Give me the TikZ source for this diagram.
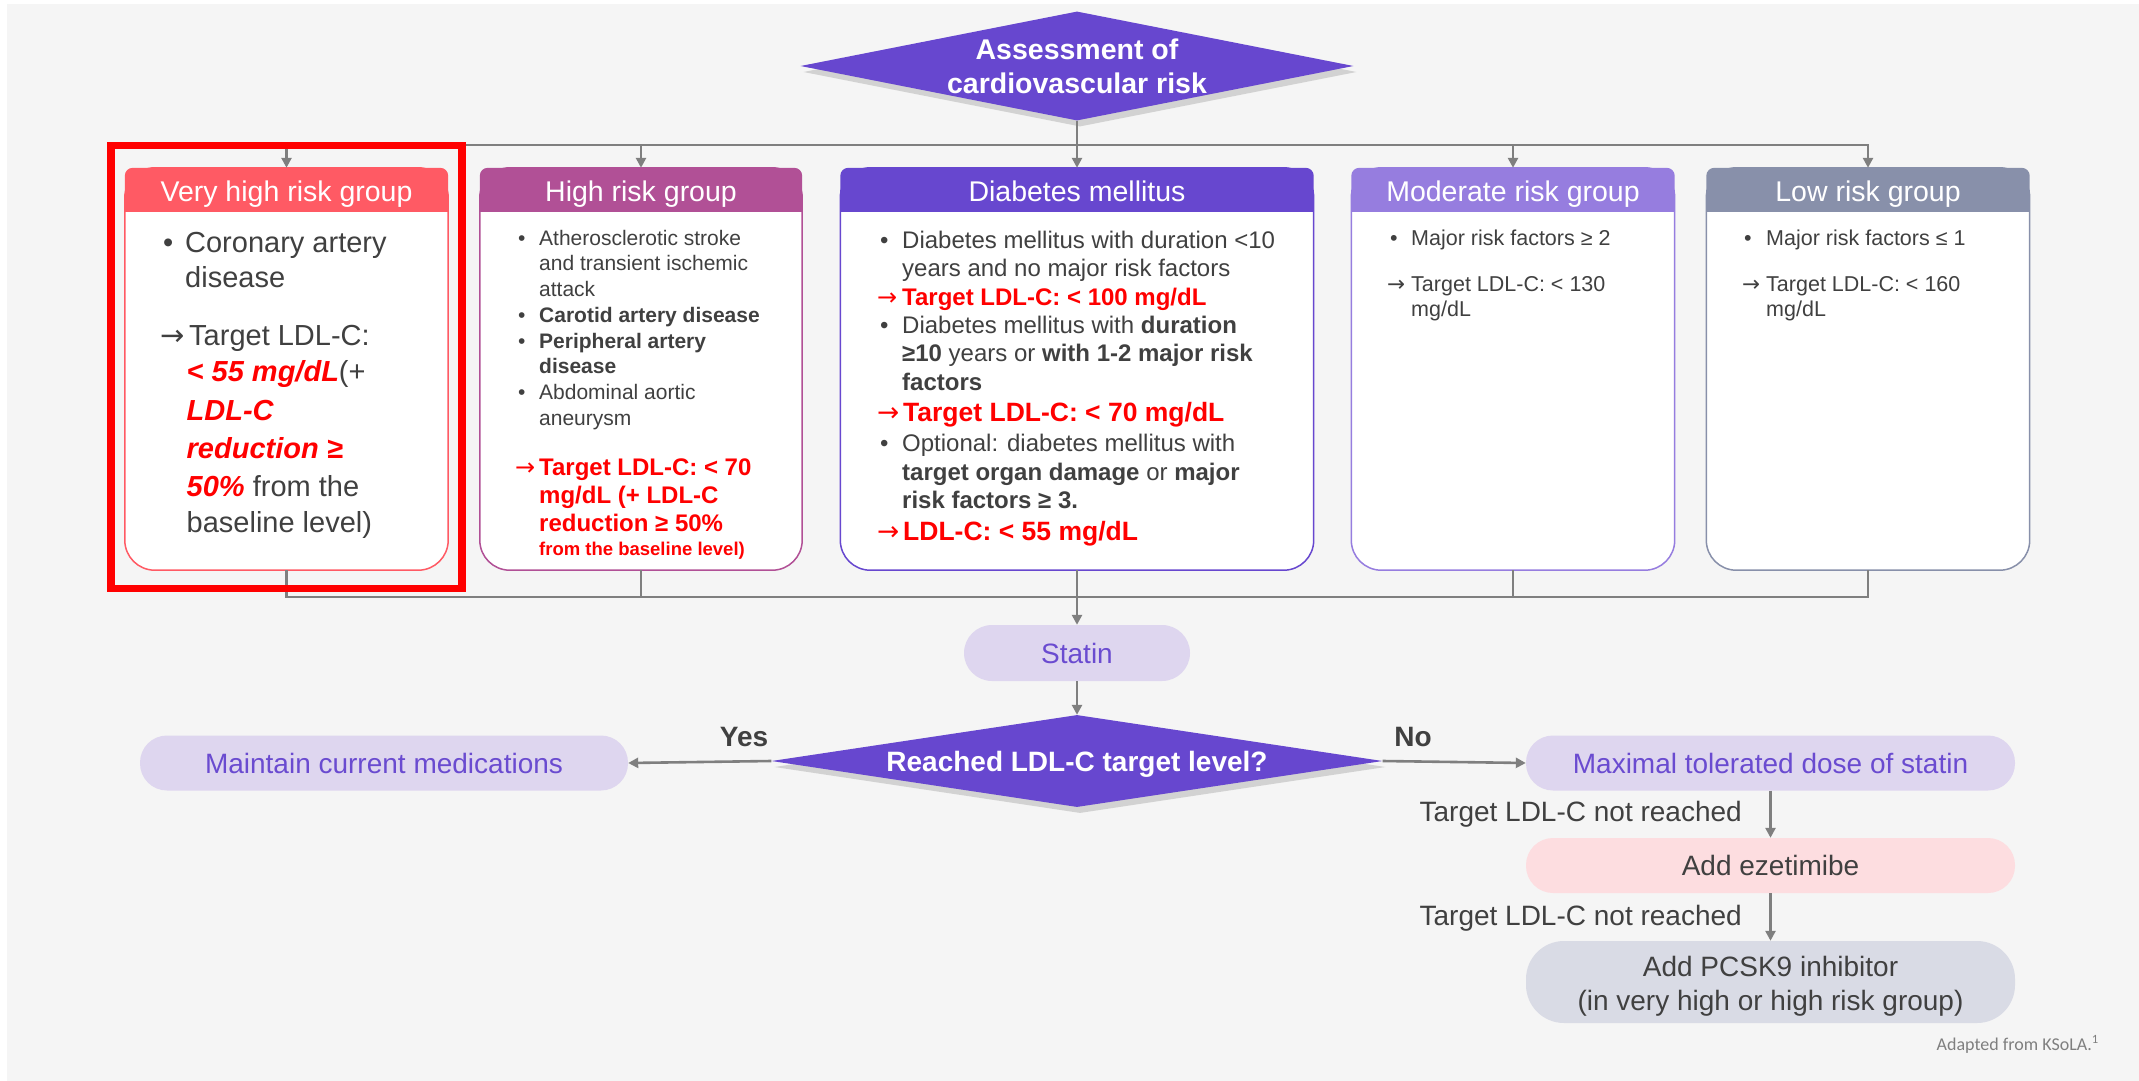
\documentclass[tikz,border=0pt]{standalone}
\usepackage{fontspec}
\setmainfont{Liberation Sans}
\newfontfamily\carl{Carlito}
\newfontfamily\dejv{DejaVu Sans}
\usetikzlibrary{shapes.geometric,arrows.meta,shadows,calc}
\definecolor{bgc}{HTML}{F5F5F5}
\definecolor{txtc}{HTML}{404040}
\definecolor{connc}{HTML}{7F7F7F}
\definecolor{vhc}{HTML}{FF5A64}
\definecolor{hic}{HTML}{B15096}
\definecolor{dmc}{HTML}{6747CF}
\definecolor{moc}{HTML}{967DDF}
\definecolor{loc}{HTML}{8890AA}
\definecolor{purp}{HTML}{6A4BD0}
\definecolor{lav}{HTML}{DED6EF}
\definecolor{pinkf}{HTML}{FDDDE0}
\definecolor{gbf}{HTML}{D9DBE5}
\definecolor{redt}{HTML}{FF0000}
\definecolor{footc}{HTML}{7F7F7F}
\newcommand\fsz[1]{\fontsize{#1}{#1}\selectfont}
\newcommand\rar{{\dejv\mdseries\upshape →}}
\newcommand\grpdraw[3]{%
  \draw[draw=#2, line width=1.5pt, fill=white, rounded corners=30pt] (#1.north west) rectangle (#1.south east);
  \fill[#2, rounded corners=8pt] (#1.north west) rectangle ($(#1.north east)+(0,44)$);
  \fill[#2] ($(#1.north west)+(0,22)$) rectangle ($(#1.north east)+(0,44)$);
  \node[font=\fsz{28.5}, text=white, anchor=base, inner sep=0pt] (#1t) at ($(#1.north)+(0,33.5)$) {#3};
}
\begin{document}
\begin{tikzpicture}[x=1pt,y=-1pt,
  conn/.style={draw=connc, line width=2.6pt},
  arr/.style={draw=connc, line width=2.6pt, -{Triangle[length=10pt,width=10pt]}},
  grp/.style={rectangle, minimum width=323pt, minimum height=402pt, inner sep=0pt},
  ln/.style={anchor=base west, inner sep=0pt, text=txtc},
  rl/.style={anchor=base west, inner sep=0pt, text=redt, font=\bfseries\fsz{24}},
  pill/.style={rectangle, rounded corners=27pt, minimum height=55pt, minimum width=489pt, inner sep=0pt, font=\fsz{28}, text height=20pt, text depth=0pt},
  dshadow/.style={drop shadow={shadow xshift=3pt, shadow yshift=-6pt, opacity=0.18, fill=black!80}},
  lbl/.style={inner sep=0pt, text=txtc, font=\fsz{28}},
  wht/.style={inner sep=0pt, text=white, font=\bfseries\fsz{28.5}, anchor=base}
]
\useasboundingbox (0,0) rectangle (2139,1081);
\fill[white] (0,0) rectangle (2139,1081);
\fill[bgc] (7,4) rectangle (2139,1081);

% group boxes
\node[grp] (vh) at (286.5,369) {};
\node[grp, minimum width=322pt] (hi) at (641,369) {};
\node[grp, minimum width=473pt] (dm) at (1077,369) {};
\node[grp] (mo) at (1513,369) {};
\node[grp] (lo) at (1868,369) {};
\grpdraw{vh}{vhc}{Very high risk group}
\grpdraw{hi}{hic}{High risk group}
\grpdraw{dm}{dmc}{Diabetes mellitus}
\grpdraw{mo}{moc}{Moderate risk group}
\grpdraw{lo}{loc}{Low risk group}

% top diamond
\node[diamond, fill=dmc, minimum width=553pt, minimum height=109pt, inner sep=0pt, dshadow] (assess) at (1077,66) {};
\node[wht] (as1) at (1077,59.3) {Assessment of};
\node[wht] (as2) at (1077,93.8) {cardiovascular risk};

% bus lines
\coordinate (bt) at (1077,145);
\coordinate (bb) at (1077,597);
\draw[conn] (assess.south) -- (assess.south |- bt);
\draw[conn, line cap=rect] (vh.north |- bt) -- (lo.north |- bt);
\foreach \n in {vh,hi,dm,mo,lo} \draw[arr] (\n.north |- bt) -- (\n.north);
\draw[conn, line join=miter] (vh.south) -- (vh.south |- bb) -- (lo.south |- bb) -- (lo.south);
\draw[conn] (hi.south) -- (hi.south |- bb);
\draw[conn] (mo.south) -- (mo.south |- bb);

% highlight
\node[draw=redt, line width=7.5pt, minimum width=351pt, minimum height=443pt, inner sep=0pt] (hl) at (286.5,367) {};

% lower part
\node[pill, fill=lav, text=purp, minimum width=226pt, minimum height=56pt, rounded corners=28pt] (statin) at (1077,653) {Statin};
\draw[arr] (dm.south) -- (statin.north);
\node[diamond, fill=dmc, minimum width=611pt, minimum height=92pt, inner sep=0pt, dshadow] (dec) at (1077,761) {};
\node[wht, font=\bfseries\fsz{28}] (dect) at (1077,771.7) {Reached LDL-C target level?};
\draw[arr] (statin.south) -- (dec.north);

\node[pill, fill=lav, text=purp, minimum width=488pt] (maint) at (384,763) {Maintain current medications};
\node[pill, fill=lav, text=purp] (maxd) at (1770.5,763) {Maximal tolerated dose of statin};
\node[pill, fill=pinkf, text=txtc] (eze) at (1770.5,865.5) {Add ezetimibe};
\node[pill, fill=gbf, minimum height=82pt, rounded corners=38pt] (pcsk) at (1770.5,982) {};
\node[lbl, anchor=base] (pk1) at (1770.5,976.5) {Add PCSK9 inhibitor};
\node[lbl, anchor=base] (pk2) at (1770.5,1010) {(in very high or high risk group)};

\draw[arr] (dec.west) -- (maint.east);
\draw[arr] (dec.east) -- (maxd.west);
\draw[arr] (maxd.south) -- (eze.north);
\draw[arr] (eze.south) -- (pcsk.north);

\node[lbl, font=\bfseries\fsz{28}, anchor=base] (yes) at (744,746.7) {Yes};
\node[lbl, font=\bfseries\fsz{28}, anchor=base] (no) at (1413,746.7) {No};
\node[lbl, anchor=base east] (nr1) at (1742,821.7) {Target LDL-C not reached};
\node[lbl, anchor=base east] (nr2) at (1742,925) {Target LDL-C not reached};
\node[anchor=base east, inner sep=0pt, font=\carl\fsz{18}, text=footc] (foot) at (2099,1050) {Adapted from KSoLA.\textsuperscript{1}};

% very high text
\begin{scope}[every node/.append style={font=\fsz{29}}]
\node[ln] (v1) at (163,252.7) {\makebox[22pt][l]{•}Coronary artery};
\node[ln] (v2) at (185,287.7) {disease};
\node[ln] (v3) at (160,345) {\makebox[29pt][l]{\rar}Target LDL-C:};
\node[ln] (v4) at (186.5,381.7) {\textcolor{redt}{\bfseries\itshape < 55 mg/dL}(+};
\node[ln] (v5) at (186.5,420) {\textcolor{redt}{\bfseries\itshape LDL-C}};
\node[ln] (v6) at (186.5,458) {\textcolor{redt}{\bfseries\itshape reduction ≥}};
\node[ln] (v7) at (186.5,496.7) {\textcolor{redt}{\bfseries\itshape 50\%} from the};
\node[ln] (v8) at (186.5,532.7) {baseline level)};
\end{scope}

% high text
\begin{scope}[every node/.append style={font=\fsz{21}}]
\node[ln] (h1) at (518,245) {\makebox[21pt][l]{•}Atherosclerotic stroke};
\node[ln] (h2) at (539,270.7) {and transient ischemic};
\node[ln] (h3) at (539,296.7) {attack};
\node[ln] (h4) at (518,322.3) {\makebox[21pt][l]{•}\bfseries Carotid artery disease};
\node[ln] (h5) at (518,348.3) {\makebox[21pt][l]{•}\bfseries Peripheral artery};
\node[ln] (h6) at (539,373.3) {\bfseries disease};
\node[ln] (h7) at (518,399) {\makebox[21pt][l]{•}Abdominal aortic};
\node[ln] (h8) at (539,425) {aneurysm};
\end{scope}
\node[rl] (h9) at (515,475) {\makebox[24pt][l]{\rar}Target LDL-C: < 70};
\node[rl] (h10) at (539,503.3) {mg/dL (+ LDL-C};
\node[rl] (h11) at (539,531.7) {reduction ≥ 50\%};
\node[rl, font=\bfseries\fsz{18.5}] (h12) at (539,555) {from the baseline level)};

% diabetes text
\begin{scope}[every node/.append style={font=\fsz{24}}]
\node[ln] (d1) at (880,248.3) {\makebox[22pt][l]{•}Diabetes mellitus with duration <10};
\node[ln] (d2) at (902,276.7) {years and no major risk factors};
\node[ln] (d4) at (880,333.3) {\makebox[22pt][l]{•}Diabetes mellitus with \textbf{duration}};
\node[ln] (d5) at (902,361.7) {\textbf{≥10} years or \textbf{with 1-2 major risk}};
\node[ln] (d6) at (902,390) {\textbf{factors}};
\node[ln] (d8) at (880,451.7) {\makebox[22pt][l]{•}Optional: diabetes mellitus with};
\node[ln] (d9) at (902,480) {\textbf{target organ damage} or \textbf{major}};
\node[ln] (d10) at (902,508.3) {\textbf{risk factors ≥ 3.}};
\end{scope}
\node[rl] (d3) at (877,305) {\makebox[25pt][l]{\rar}Target LDL-C: < 100 mg/dL};
\node[rl, font=\bfseries\fsz{26.5}] (d7) at (877,421.7) {\makebox[26pt][l]{\rar}Target LDL-C: < 70 mg/dL};
\node[rl, font=\bfseries\fsz{26.5}] (d11) at (877,540) {\makebox[26pt][l]{\rar}LDL-C: < 55 mg/dL};

% moderate / low text
\begin{scope}[every node/.append style={font=\fsz{21.5}}]
\node[ln] (m1) at (1390,245) {\makebox[21pt][l]{•}Major risk factors ≥ 2};
\node[ln] (m2) at (1387,291.7) {\makebox[24pt][l]{\rar}Target LDL-C: < 130};
\node[ln] (m3) at (1411,316.7) {mg/dL};
\node[ln] (l1) at (1744,245) {\makebox[22pt][l]{•}Major risk factors ≤ 1};
\node[ln] (l2) at (1742,291.7) {\makebox[24pt][l]{\rar}Target LDL-C: < 160};
\node[ln] (l3) at (1766,316.7) {mg/dL};
\end{scope}
\end{tikzpicture}
\end{document}
